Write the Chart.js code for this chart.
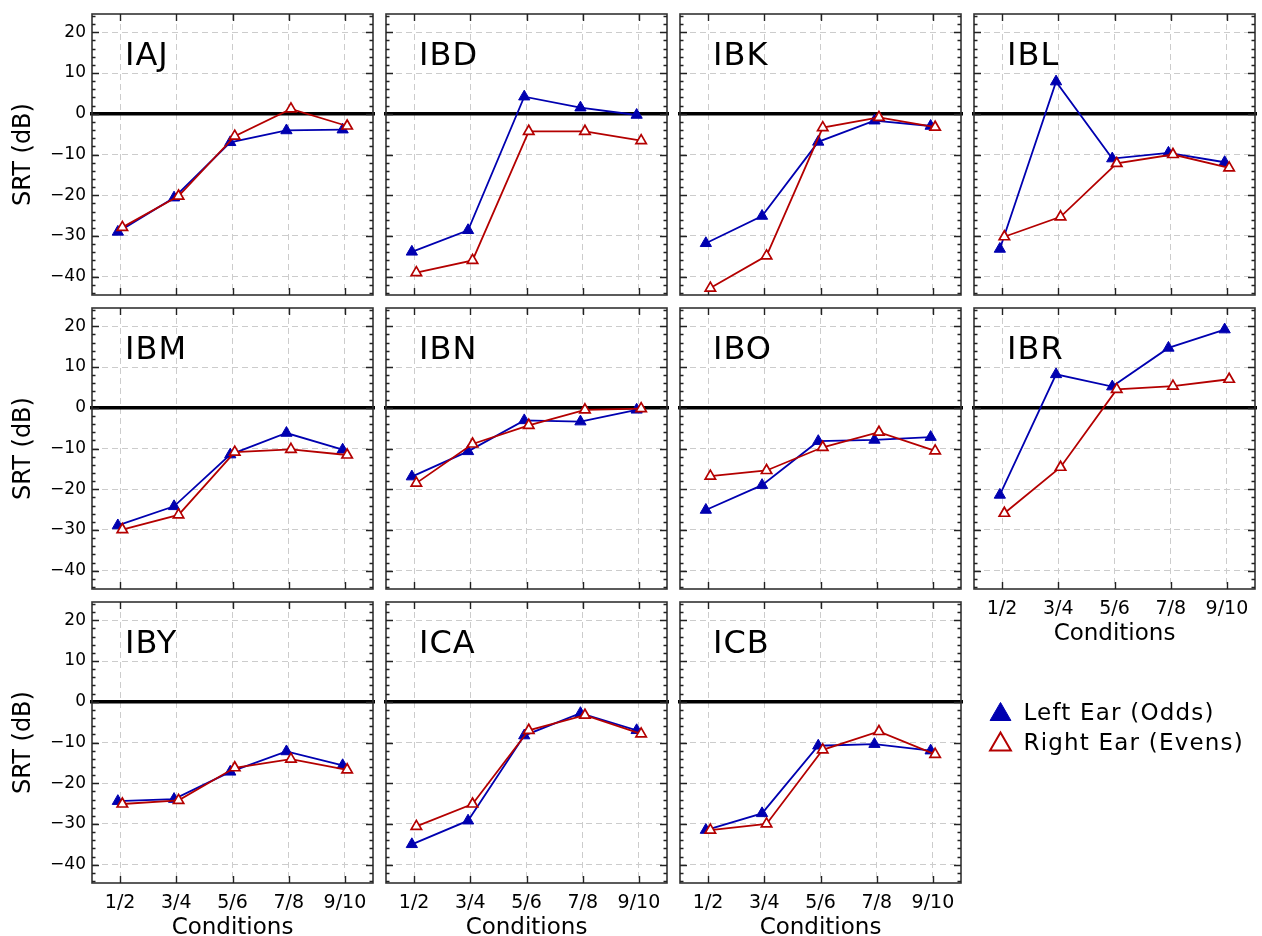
<!DOCTYPE html>
<html><head><meta charset="utf-8">
<script src="https://cdn.jsdelivr.net/npm/chart.js@4"></script>
<style>
html,body{margin:0;padding:0;background:#fff;}
body{width:1262px;height:936px;position:relative;overflow:hidden;}
canvas{position:absolute;}
</style></head><body>
<script>
// ---------- data ----------
const categories = ['1/2','3/4','5/6','7/8','9/10'];
const subjects = ['IAJ','IBD','IBK','IBL','IBM','IBN','IBO','IBR','IBY','ICA','ICB'];
const yTickValues = [-40,-30,-20,-10,0,10,20];
const seriesNames = ['Left Ear (Odds)','Right Ear (Evens)'];

const left_IAJ  = [-29.0,-20.6,-7.0,-4.1,-3.9];
const right_IAJ = [-27.9,-20.2,-5.5, 1.2,-3.0];
const left_IBD  = [-33.9,-28.6, 4.2, 1.5,-0.3];
const right_IBD = [-39.0,-36.0,-4.3,-4.3,-6.6];
const left_IBK  = [-31.8,-25.1,-6.9,-1.7,-3.0];
const right_IBK = [-42.8,-34.9,-3.4,-0.9,-3.3];
const left_IBL  = [-33.2,  7.9,-11.0,-9.6,-11.9];
const right_IBL = [-30.2,-25.3,-12.2,-10.0,-13.3];
const left_IBM  = [-28.9,-24.2,-11.5,-6.2,-10.3];
const right_IBM = [-29.9,-26.3,-10.9,-10.2,-11.6];
const left_IBN  = [-16.9,-10.7,-3.1,-3.4,-0.5];
const right_IBN = [-18.5, -8.9,-4.3,-0.5,-0.2];
const left_IBO  = [-25.1,-19.0,-8.2,-7.9,-7.2];
const right_IBO = [-16.8,-15.4,-9.7,-6.0,-10.6];
const left_IBR  = [-21.4,  8.2, 5.2,14.7,19.2];
const right_IBR = [-25.9,-14.6, 4.5, 5.3, 7.0];
const left_IBY  = [-24.4,-23.9,-17.2,-12.2,-15.6];
const right_IBY = [-25.1,-24.2,-16.2,-14.1,-16.7];
const left_ICA  = [-35.0,-29.2,-8.3,-2.8,-7.0];
const right_ICA = [-30.6,-25.1,-7.0,-3.3,-7.9];
const left_ICB  = [-31.5,-27.4,-10.8,-10.4,-12.0];
const right_ICB = [-31.5,-30.0,-11.8,-7.3,-12.9];

const leftSeries  = [left_IAJ,left_IBD,left_IBK,left_IBL,left_IBM,left_IBN,left_IBO,left_IBR,left_IBY,left_ICA,left_ICB];
const rightSeries = [right_IAJ,right_IBD,right_IBK,right_IBL,right_IBM,right_IBN,right_IBO,right_IBR,right_IBY,right_ICA,right_ICB];

// ---------- style / layout ----------
const FONT = "'DejaVu Sans', sans-serif";
Chart.defaults.font.family = FONT;
Chart.defaults.color = '#000';
const BLUE = '#0000b0';
const RED = '#b40000';
const colLefts = [92, 386, 680, 974];
const rowTops = [14, 308, 602];
const PLOT = 281, AXW = 92, AXH = 60, PADT = 10, PADR = 8;
const OFFSET = 0.04;

function zeroPad(s) { s.paddingTop = 0; s.paddingBottom = 0; s.paddingLeft = 0; s.paddingRight = 0; }

const panelDecor = {
  id: 'panelDecor',
  beforeDatasetsDraw(chart) {
    const {ctx, chartArea: a, scales: {x, y}} = chart;
    ctx.save();
    // zero reference line
    const y0 = y.getPixelForValue(0);
    ctx.strokeStyle = '#000'; ctx.lineWidth = 3.5;
    ctx.beginPath(); ctx.moveTo(a.left - 2, y0); ctx.lineTo(a.right + 2, y0); ctx.stroke();
    // frame
    ctx.strokeStyle = '#333'; ctx.lineWidth = 1.6;
    ctx.strokeRect(a.left, a.top, a.right - a.left, a.bottom - a.top);
    // inward ticks
    ctx.strokeStyle = '#222'; ctx.lineWidth = 1.4;
    ctx.beginPath();
    for (let v = Math.ceil(y.min / 2) * 2; v <= y.max; v += 2) {
      const p = Math.round(y.getPixelForValue(v)) + 0.5;
      const len = (v % 10 === 0) ? 7 : 3.5;
      ctx.moveTo(a.left, p); ctx.lineTo(a.left + len, p);
      ctx.moveTo(a.right, p); ctx.lineTo(a.right - len, p);
    }
    categories.forEach((c, i) => {
      const p = Math.round(x.getPixelForValue(i + 1)) + 0.5;
      ctx.moveTo(p, a.top); ctx.lineTo(p, a.top + 7);
      ctx.moveTo(p, a.bottom); ctx.lineTo(p, a.bottom - 7);
    });
    ctx.stroke();
    ctx.restore();
  },
  afterDraw(chart, args, opts) {
    const {ctx, chartArea: a} = chart;
    ctx.save();
    ctx.fillStyle = '#000';
    ctx.font = '32px ' + FONT;
    ctx.textBaseline = 'alphabetic';
    ctx.letterSpacing = '1px';
    ctx.fillText(opts.name, a.left + 33, a.top + 51);
    ctx.restore();
  }
};

subjects.forEach((name, i) => {
  const row = Math.floor(i / 4), col = i % 4;
  const showX = row === 2 || name === 'IBR';
  const showY = col === 0;
  const cv = document.createElement('canvas');
  const W = AXW + PLOT + PADR, H = PADT + PLOT + AXH;
  cv.width = W; cv.height = H;
  cv.style.left = (colLefts[col] - AXW) + 'px';
  cv.style.top = (rowTops[row] - PADT) + 'px';
  cv.style.width = W + 'px'; cv.style.height = H + 'px';
  document.body.appendChild(cv);
  new Chart(cv, {
    type: 'line',
    data: {
      datasets: [
        {
          label: seriesNames[1],
          data: rightSeries[i].map((v, k) => ({x: k + 1 + OFFSET, y: v})),
          borderColor: RED, borderWidth: 1.8,
          pointStyle: 'triangle', pointRadius: 6,
          pointBackgroundColor: '#fff', pointBorderColor: RED, pointBorderWidth: 1.7,
          fill: false, tension: 0
        },
        {
          label: seriesNames[0],
          data: leftSeries[i].map((v, k) => ({x: k + 1 - OFFSET, y: v})),
          borderColor: BLUE, borderWidth: 1.8,
          pointStyle: 'triangle', pointRadius: 6.5,
          pointBackgroundColor: BLUE, pointBorderColor: BLUE, pointBorderWidth: 1,
          fill: false, tension: 0
        }
      ]
    },
    options: {
      responsive: false, animation: false, devicePixelRatio: 1,
      clip: false,
      layout: {padding: {top: PADT, right: PADR, left: 0, bottom: 0}},
      plugins: {legend: {display: false}, tooltip: {enabled: false}, panelDecor: {name}},
      scales: {
        x: {
          type: 'linear', min: 0.5, max: 5.5,
          afterBuildTicks: s => { s.ticks = categories.map((c, k) => ({value: k + 1})); },
          afterFit: s => { s.height = AXH; zeroPad(s); },
          ticks: {display: showX, autoSkip: false, maxRotation: 0, padding: 9,
                  font: {size: 19}, color: '#000',
                  callback: v => categories[Math.round(v) - 1] || ''},
          grid: {color: '#cccccc', lineWidth: 1, drawTicks: false},
          border: {display: false, dash: [6, 4]},
          title: {display: showX, text: 'Conditions', font: {size: 23}, color: '#000',
                  padding: {top: 0, bottom: 1}}
        },
        y: {
          type: 'linear', min: -44.5, max: 24.5,
          afterBuildTicks: s => { s.ticks = yTickValues.map(v => ({value: v})); },
          afterFit: s => { s.width = AXW; zeroPad(s); },
          ticks: {display: showY, padding: 6, font: {size: 17}, color: '#000',
                  callback: v => (v < 0 ? '\u2212' + Math.abs(v) : String(v))},
          grid: {color: '#cccccc', lineWidth: 1, drawTicks: false},
          border: {display: false, dash: [6, 4]},
          title: {display: showY, text: 'SRT (dB)', font: {size: 24}, color: '#000',
                  padding: {top: 9, bottom: 0}}
        }
      }
    },
    plugins: [panelDecor]
  });
});

// ---------- legend ----------
const spacing = {
  id: 'spacing',
  beforeInit(chart) { chart.ctx.letterSpacing = '1.2px'; },
  beforeDraw(chart) { chart.ctx.letterSpacing = '1.2px'; }
};
const lg = document.createElement('canvas');
lg.width = 280; lg.height = 160;
lg.style.left = '982px'; lg.style.top = '696px';
lg.style.width = '280px'; lg.style.height = '160px';
document.body.appendChild(lg);
new Chart(lg, {
  type: 'line',
  data: {datasets: [
    {label: seriesNames[0], data: [], borderColor: BLUE, backgroundColor: BLUE},
    {label: seriesNames[1], data: [], borderColor: RED, backgroundColor: '#fff'}
  ]},
  options: {
    responsive: false, animation: false, devicePixelRatio: 1,
    layout: {padding: 0},
    scales: {x: {display: false}, y: {display: false}},
    plugins: {
      tooltip: {enabled: false},
      legend: {
        display: true, position: 'top', align: 'start',
        labels: {
          usePointStyle: true, boxWidth: 24, boxHeight: 17, padding: 7,
          font: {size: 23}, color: '#000',
          generateLabels: () => [
            {text: seriesNames[0], fillStyle: BLUE, strokeStyle: BLUE, lineWidth: 1, pointStyle: 'triangle', hidden: false, datasetIndex: 0, fontColor: '#000'},
            {text: seriesNames[1], fillStyle: '#fff', strokeStyle: RED, lineWidth: 2, pointStyle: 'triangle', hidden: false, datasetIndex: 1, fontColor: '#000'}
          ]
        }
      }
    }
  },
  plugins: [spacing]
});
</script>
</body></html>
